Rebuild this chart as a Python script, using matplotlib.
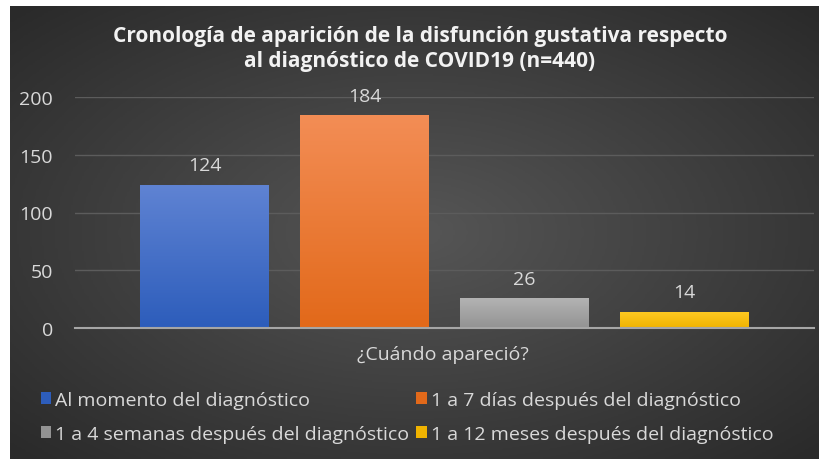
#!/usr/bin/env python3
"""Cronologia de aparicion de la disfuncion gustativa (bar chart, dark Excel style)."""

import matplotlib

matplotlib.use("Agg")
import matplotlib.pyplot as plt
import numpy as np
from matplotlib.colors import LinearSegmentedColormap
from matplotlib.patches import Patch

SERIES = [
    "Al momento del diagnóstico",
    "1 a 7 días después del diagnóstico",
    "1 a 4 semanas después del diagnóstico",
    "1 a 12 meses después del diagnóstico",
]
VALUES = [124, 184, 26, 14]
TOP_COLORS = ["#5f83d3", "#f38d55", "#b4b4b4", "#ffca24"]
BOTTOM_COLORS = ["#2d5dbb", "#e2691a", "#939393", "#f0b300"]
YTICKS = [0, 50, 100, 150, 200]
TITLE = "Cronología de aparición de la disfunción gustativa respecto\nal diagnóstico de COVID19 (n=440)"
XLABEL = "¿Cuándo apareció?"

plt.rcParams["font.family"] = ["Open Sans", "DejaVu Sans"]
TEXT = "#d9d9d9"

fig = plt.figure(figsize=(8.2, 4.6), dpi=100)
fig.patch.set_facecolor("white")

# radial dark background (chart area starts a few px in from left/top)
bg = fig.add_axes([10 / 820, 0, 810 / 820, 453 / 460])
yy, xx = np.mgrid[-1:1:200j, -1:1:360j]
r = np.clip(np.sqrt(xx ** 2 + yy ** 2) / 1.4, 0, 1)
bg_cmap = LinearSegmentedColormap.from_list("bg", ["#565656", "#2a2a2a"])
bg.imshow(r, cmap=bg_cmap, aspect="auto", extent=(0, 1, 0, 1), vmin=0, vmax=1)
bg.set_axis_off()

ax = fig.add_axes([75 / 820, 1 - 329 / 460, 739 / 820, 231 / 460])
ax.set_facecolor("none")
x = np.arange(len(VALUES))
bars = ax.bar(x, VALUES, width=0.806, color="none", zorder=2)
grad = np.linspace(1, 0, 100).reshape(-1, 1)
for bar, top, bottom in zip(bars, TOP_COLORS, BOTTOM_COLORS):
    cmap = LinearSegmentedColormap.from_list("g", [bottom, top])
    x0, w, h = bar.get_x(), bar.get_width(), bar.get_height()
    im = ax.imshow(grad, cmap=cmap, aspect="auto", extent=(x0, x0 + w, 0, h), zorder=2, vmin=0, vmax=1)
    im.set_clip_path(bar)
    ax.text(x0 + w / 2, h + 9, str(int(h)), ha="center", va="bottom", color=TEXT, fontsize=14, clip_on=False)

ax.set_xlim(-0.81, 3.81)
ax.set_ylim(0, 200)
ax.set_yticks(YTICKS)
ax.set_xticks([])
ax.tick_params(axis="y", length=0, colors=TEXT, labelsize=14, pad=16)
ax.yaxis.grid(True, color="#5c5c5c", linewidth=1.0, zorder=0)
ax.set_axisbelow(True)
for side in ["top", "right", "left"]:
    ax.spines[side].set_visible(False)
ax.spines["bottom"].set_color("#a6a6a6")
ax.spines["bottom"].set_linewidth(1.5)
ax.spines["bottom"].set_zorder(3)

fig.text(420 / 820, 1 - 49 / 460, TITLE, ha="center", va="center", color="#f2f2f2",
         fontsize=15, fontweight="bold", linespacing=1.3)
fig.text(443 / 820, 1 - 355 / 460, XLABEL, ha="center", va="center", color=TEXT, fontsize=14)

# legend fills column by column, so interleave to read row by row
order = [0, 2, 1, 3]
handles = [Patch(facecolor=BOTTOM_COLORS[i]) for i in order]
labels = [SERIES[i] for i in order]
leg = fig.legend(handles, labels, loc="center left", bbox_to_anchor=(31 / 820, 1 - 418 / 460), ncol=2,
                 frameon=False, fontsize=14, handlelength=0.55, handleheight=0.55, handletextpad=0.2,
                 columnspacing=0.35, labelspacing=0.8, labelcolor=TEXT, borderpad=0)

fig.savefig("out.png", dpi=100)
